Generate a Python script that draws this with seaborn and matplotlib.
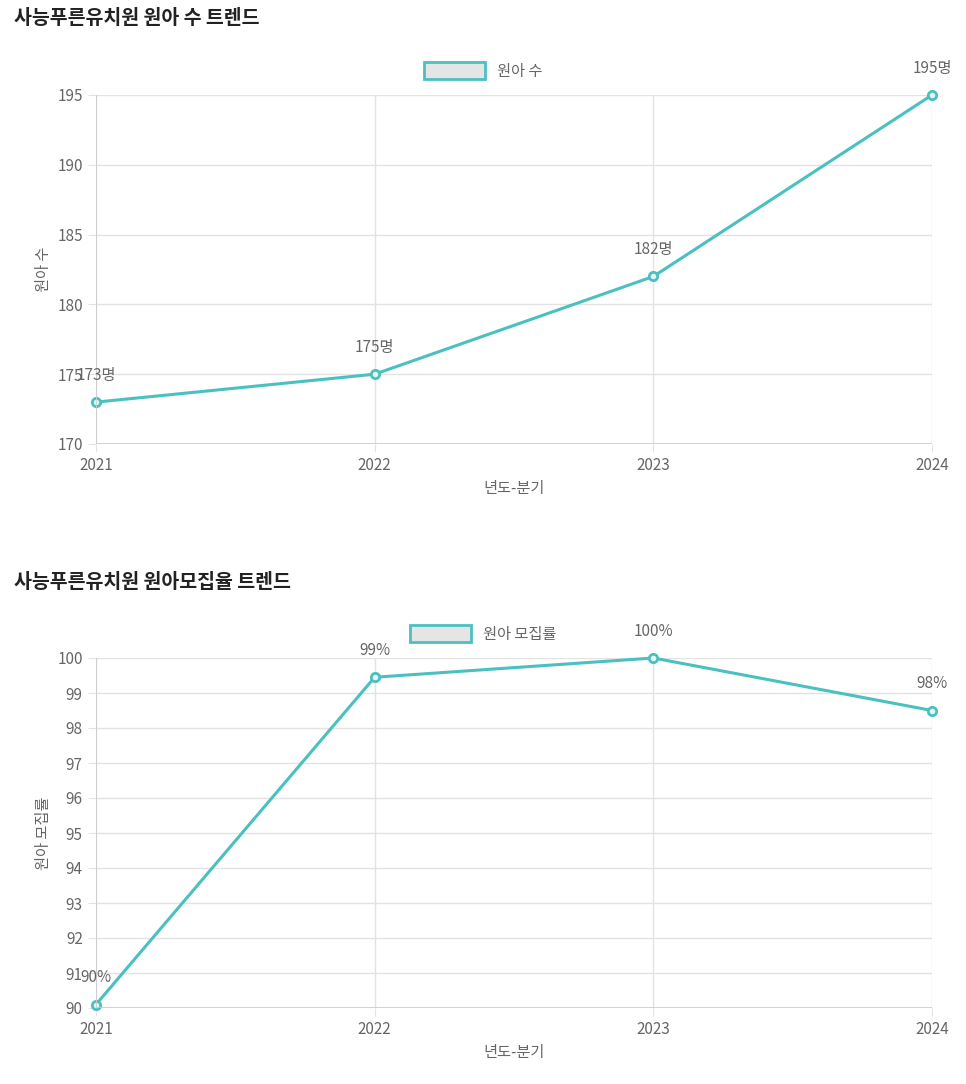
import matplotlib
matplotlib.use("Agg")
import matplotlib.pyplot as plt
import seaborn as sns
import pandas as pd
from matplotlib.patches import Patch

plt.rcParams["font.family"] = ["Noto Sans CJK JP", "Noto Sans CJK KR", "Noto Sans CJK SC", "DejaVu Sans"]

years = ["2021", "2022", "2023", "2024"]
kids = [173, 175, 182, 195]
kid_labels = ["173명", "175명", "182명", "195명"]
rate = [90.1, 99.45, 100, 98.5]
rate_labels = ["90%", "99%", "100%", "98%"]

teal = "#4BC0C0"
txt = "#666666"

fig = plt.figure(figsize=(9.66, 10.84), dpi=100)


def draw(ax, vals, labels, ylim, yticks, ylab, legend, title, title_y, legend_y):
    df = pd.DataFrame({"x": range(len(years)), "y": vals})
    sns.lineplot(data=df, x="x", y="y", ax=ax, color=teal, linewidth=2.2,
                 marker="o", markersize=6, markerfacecolor="#e6f5f5",
                 markeredgecolor=teal, markeredgewidth=2, clip_on=False)
    ax.set_xlim(0, len(years) - 1)
    ax.set_ylim(*ylim)
    ax.set_yticks(yticks)
    ax.set_xticks(range(len(years)))
    ax.set_xticklabels(years)
    ax.grid(True, color="#e3e3e3", linewidth=1)
    for s in ax.spines.values():
        s.set_visible(False)
    ax.axhline(ylim[0], color="#cccccc", linewidth=1.2)
    ax.axvline(0, color="#cccccc", linewidth=1.2)
    ax.tick_params(colors=txt, labelsize=11, length=6, color="#e3e3e3")
    ax.set_xlabel("년도-분기", color=txt, fontsize=11)
    ax.set_ylabel(ylab, color=txt, fontsize=11)
    for i, (v, l) in enumerate(zip(vals, labels)):
        ax.annotate(l, (i, v), xytext=(0, 13), textcoords="offset points",
                    ha="center", va="bottom", color=txt, fontsize=11,
                    annotation_clip=False)
    fig.text(14 / 966, 1 - title_y / 1084, title, fontsize=14, weight="bold",
             color="#222222", va="center")
    ax.legend(handles=[Patch(facecolor="#e5e5e5", edgecolor=teal, linewidth=2, label=legend)],
              loc="center", bbox_to_anchor=(0.5, 1 - legend_y / 1084),
              bbox_transform=fig.transFigure, frameon=False, labelcolor=txt,
              fontsize=11, handlelength=4, handleheight=1.3)


ax1 = fig.add_axes([96 / 966, 1 - 444 / 1084, 836 / 966, 349 / 1084])
draw(ax1, kids, kid_labels, (170, 195), range(170, 196, 5), "원아 수", "원아 수",
     "사능푸른유치원 원아 수 트렌드", 18, 71)

ax2 = fig.add_axes([96 / 966, 1 - 1008 / 1084, 836 / 966, 350 / 1084])
draw(ax2, rate, rate_labels, (90, 100), range(90, 101), "원아 모집률", "원아 모집률",
     "사능푸른유치원 원아모집율 트렌드", 582, 634)

fig.savefig("out.png", dpi=100)
